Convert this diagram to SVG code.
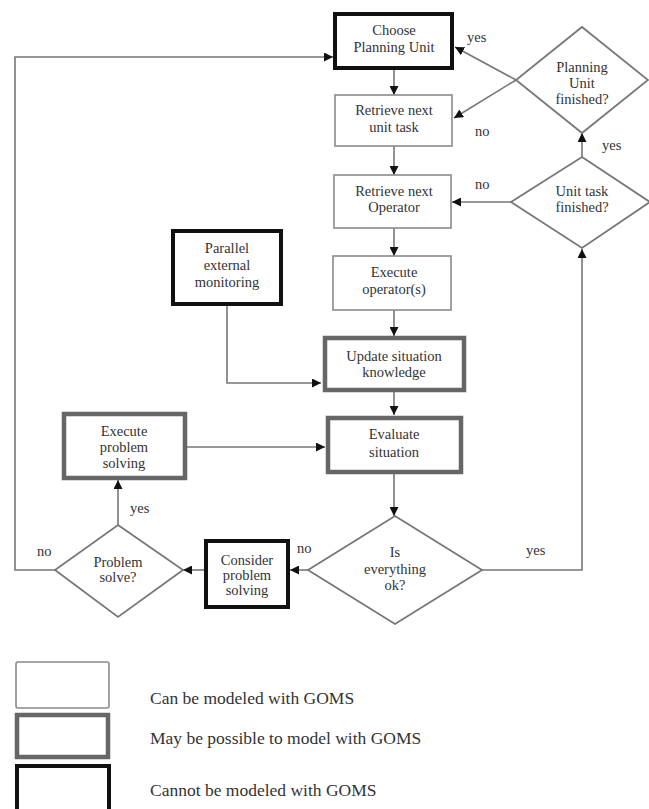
<svg xmlns="http://www.w3.org/2000/svg" width="649" height="809" viewBox="0 0 649 809">
<style>
text{font-family:"Liberation Serif","Times New Roman",serif;font-size:14.5px;fill:#333;text-anchor:middle}
.lbl{text-anchor:start}
.leg{font-size:17.5px;text-anchor:start}
.can{fill:#fff;stroke:#8a8a8a;stroke-width:1.6}
.may{fill:#fff;stroke:#666;stroke-width:4.5}
.cannot{fill:#fff;stroke:#111;stroke-width:4}
.dia{fill:#fff;stroke:#777;stroke-width:1.8}
.con{fill:none;stroke:#777;stroke-width:1.6}
</style>
<defs>
<marker id="ah" viewBox="0 0 10 10" refX="10" refY="5" markerWidth="9" markerHeight="9" markerUnits="userSpaceOnUse" orient="auto">
<path d="M0,0 L10,5 L0,10 z" fill="#111"/>
</marker>
</defs>
<g id="connectors">
<line class="con" x1="394" y1="70" x2="394" y2="95" marker-end="url(#ah)"/>
<line class="con" x1="394" y1="146" x2="394" y2="175" marker-end="url(#ah)"/>
<line class="con" x1="394" y1="228" x2="394" y2="256" marker-end="url(#ah)"/>
<line class="con" x1="394" y1="310" x2="394" y2="336" marker-end="url(#ah)"/>
<line class="con" x1="394" y1="392" x2="394" y2="415" marker-end="url(#ah)"/>
<line class="con" x1="394" y1="474" x2="394" y2="516" marker-end="url(#ah)"/>
<line class="con" x1="516" y1="80" x2="455" y2="47" marker-end="url(#ah)"/>
<line class="con" x1="516" y1="80" x2="454" y2="118" marker-end="url(#ah)"/>
<line class="con" x1="582" y1="157" x2="582" y2="133" marker-end="url(#ah)"/>
<line class="con" x1="511" y1="202" x2="452" y2="202" marker-end="url(#ah)"/>
<polyline class="con" points="482,570 582,570 582,249" marker-end="url(#ah)"/>
<polyline class="con" points="227,304 227,383 321,383" marker-end="url(#ah)"/>
<line class="con" x1="185" y1="447" x2="325" y2="447" marker-end="url(#ah)"/>
<line class="con" x1="308" y1="570" x2="290" y2="570" marker-end="url(#ah)"/>
<line class="con" x1="205" y1="570" x2="183" y2="570" marker-end="url(#ah)"/>
<line class="con" x1="118" y1="525" x2="118" y2="480" marker-end="url(#ah)"/>
<polyline class="con" points="55,570 15,570 15,57 333,57" marker-end="url(#ah)"/>
<text class="lbl" x="467" y="42">yes</text>
<text class="lbl" x="475" y="136">no</text>
<text class="lbl" x="475" y="189">no</text>
<text class="lbl" x="602" y="150">yes</text>
<text class="lbl" x="526" y="555">yes</text>
<text class="lbl" x="297" y="553">no</text>
<text class="lbl" x="130" y="513">yes</text>
<text class="lbl" x="37" y="556">no</text>
</g>
<g id="choose-planning-unit">
<rect class="cannot" x="335" y="14" width="117" height="54"/>
<text x="394" y="35">Choose</text>
<text x="394" y="52">Planning Unit</text>
</g>
<g id="retrieve-unit-task">
<rect class="can" x="335" y="95" width="117" height="51"/>
<text x="394" y="115">Retrieve next</text>
<text x="394" y="132">unit task</text>
</g>
<g id="retrieve-operator">
<rect class="can" x="334" y="175" width="117" height="53"/>
<text x="394" y="196">Retrieve next</text>
<text x="394" y="212">Operator</text>
</g>
<g id="execute-operators">
<rect class="can" x="333" y="256" width="118" height="54"/>
<text x="394" y="277">Execute</text>
<text x="394" y="294">operator(s)</text>
</g>
<g id="update-situation">
<rect class="may" x="325" y="338" width="139" height="52"/>
<text x="394" y="361">Update situation</text>
<text x="394" y="377">knowledge</text>
</g>
<g id="evaluate-situation">
<rect class="may" x="328" y="418" width="133" height="54"/>
<text x="394" y="439">Evaluate</text>
<text x="394" y="457">situation</text>
</g>
<g id="parallel-monitoring">
<rect class="cannot" x="173" y="231" width="108" height="73"/>
<text x="227" y="253">Parallel</text>
<text x="227" y="270">external</text>
<text x="227" y="287">monitoring</text>
</g>
<g id="execute-problem-solving">
<rect class="may" x="64" y="414" width="121" height="64"/>
<text x="124" y="436">Execute</text>
<text x="124" y="452">problem</text>
<text x="124" y="468">solving</text>
</g>
<g id="consider-problem-solving">
<rect class="cannot" x="206" y="541" width="82" height="66"/>
<text x="247" y="565">Consider</text>
<text x="247" y="580">problem</text>
<text x="247" y="595">solving</text>
</g>
<g id="planning-unit-finished">
<polygon class="dia" points="582,27 648,80 582,133 516,80"/>
<text x="582" y="72">Planning</text>
<text x="582" y="88">Unit</text>
<text x="582" y="104">finished?</text>
</g>
<g id="unit-task-finished">
<polygon class="dia" points="582,157 650,202 582,248 511,202"/>
<text x="582" y="196">Unit task</text>
<text x="582" y="212">finished?</text>
</g>
<g id="is-everything-ok">
<polygon class="dia" points="395,516 482,570 395,624 308,570"/>
<text x="395" y="557">Is</text>
<text x="395" y="574">everything</text>
<text x="395" y="590">ok?</text>
</g>
<g id="problem-solve">
<polygon class="dia" points="118,525 183,570 118,617 55,570"/>
<text x="118" y="567">Problem</text>
<text x="118" y="582">solve?</text>
</g>
<g id="legend">
<rect class="can" x="16" y="662" width="93" height="46" rx="2"/>
<rect class="may" x="17" y="715" width="91" height="42"/>
<rect class="cannot" x="17" y="766" width="92" height="50"/>
<text class="leg" x="150" y="704">Can be modeled with GOMS</text>
<text class="leg" x="150" y="744">May be possible to model with GOMS</text>
<text class="leg" x="150" y="796">Cannot be modeled with GOMS</text>
</g>
</svg>
